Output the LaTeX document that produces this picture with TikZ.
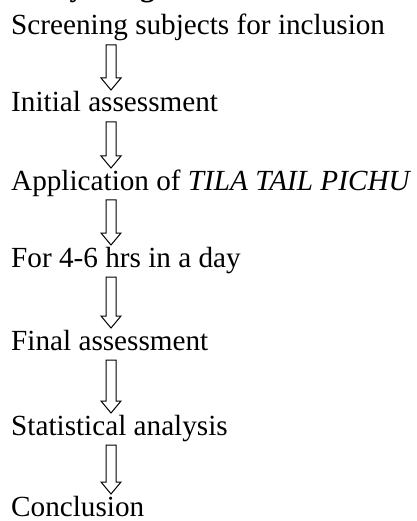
\documentclass[tikz,border=0pt]{standalone}
\usepackage{fontspec}
\setmainfont{Liberation Serif}
\usetikzlibrary{calc}
\tikzset{
  txt/.style={anchor=base west, inner sep=0pt, font=\fontsize{29.2}{34}\selectfont},
  blockarrow/.style={draw=black, line width=1pt, fill=white, line join=miter}
}
\newcommand{\blockarr}[2]{%
  \draw[blockarrow] ($(#1)+(-5,0)$) -- ($(#1)+(5,0)$) -- ($(#2)+(5,-12)$)
    -- ($(#2)+(10,-12)$) -- (#2) -- ($(#2)+(-10,-12)$) -- ($(#2)+(-5,-12)$) -- cycle;
}
\begin{document}
\begin{tikzpicture}[x=1pt,y=-1pt]
\useasboundingbox (0,0) rectangle (416,521);
\node[txt] (t0) at (11,-3) {\bfseries Study design};
\node[txt] (t1) at (11,35) {Screening subjects for inclusion};
\node[txt] (t2) at (11,112) {Initial assessment};
\node[txt] (t3) at (11,190) {Application of \textit{TILA TAIL PICHU}};
\node[txt] (t4) at (11,267) {For 4-6 hrs in a day};
\node[txt] (t5) at (11,350) {Final assessment};
\node[txt] (t6) at (11,435) {Statistical analysis};
\node[txt] (t7) at (11,516) {Conclusion};
\foreach \i/\j in {1/2,2/3,3/4,4/5,5/6,6/7}{
  \coordinate (s\i) at ($(t\i.base west)+(100,10)$);
  \coordinate (e\i) at ($(t\j.base west)+(100,-22)$);
  \blockarr{s\i}{e\i}
}
\end{tikzpicture}
\end{document}
